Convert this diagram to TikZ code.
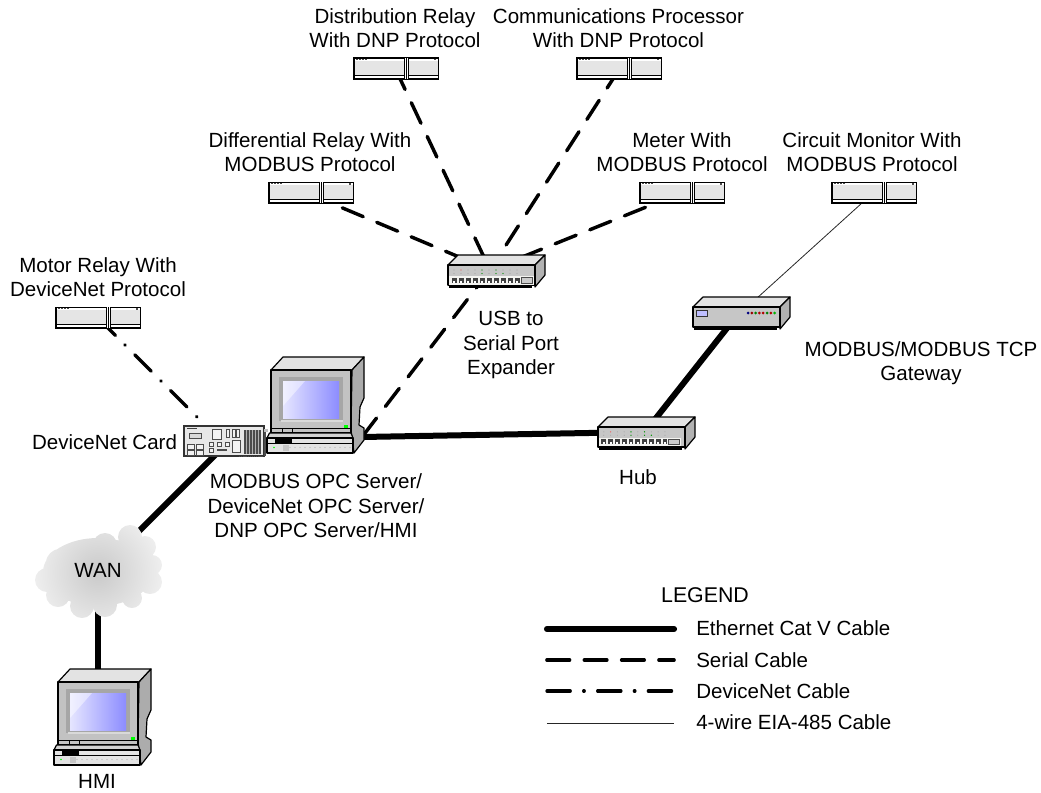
\documentclass[tikz,border=0pt]{standalone}
\usepackage{fontspec}
\setmainfont{Liberation Sans}
\begin{document}
\begin{tikzpicture}[x=0.75pt,y=-0.75pt,
  lbl/.style={font=\fontsize{15.4pt}{18.3pt}\selectfont,align=center,inner sep=0pt,text=black},
  anchorbox/.style={inner sep=0pt,minimum width=1pt,minimum height=1pt},
  eth/.style={line width=4.5pt,black},
  serial/.style={line width=2.6pt,black,line cap=round,dash pattern=on 17pt off 11pt},
  devnet/.style={line width=2.4pt,black,line cap=round,dash pattern=on 17.5pt off 10pt on 0.5pt off 10pt},
  rs/.style={line width=0.6pt,black!85},
  ol/.style={draw=black,line width=0.9pt,line join=round},
  relay/.pic={
    \fill[black] (0,-0.5) rectangle (86,22);
    \fill[gray!20] (1.5,1) rectangle (51,17);
    \fill[gray!20] (56,1) rectangle (84.5,17);
    \fill[white] (51.5,0) rectangle (52.8,21);
    \fill[white] (54,0) rectangle (55.2,21);
    \fill[white] (1.5,0.8) rectangle (51,2.8);
    \fill[white] (56,0.8) rectangle (84.5,2.8);
    \foreach \x in {3,6,9,12} \fill[black!70] (\x,1.2) rectangle ++(2,1.2);
    \fill[black!70] (81,1) rectangle (83,2.5);
    \fill[white] (1.5,18.2) rectangle (51,20.4);
    \fill[white] (56,18.2) rectangle (84.5,20.4);
  },
  boxbody/.pic={
    \path[ol,fill=gray!22] (0,0) -- (10,-10) -- (97,-10) -- (87,0) -- cycle;
    \path[ol,fill=gray!60] (87,0) -- (97,-10) -- (97,10) -- (87,22) -- cycle;
    \path[ol,fill=gray!45] (0,0) rectangle (87,20);
    \fill[black] (1,20) rectangle (84,22.5);
  },
  hubface/.pic={
    \pic {boxbody};
    \fill[yellow!12!gray!12] (1,11) rectangle (86,19.5);
    \foreach \i in {0,...,9} {
      \fill[black!75] (3.5+7*\i,12.5) rectangle ++(5,5);
      \fill[white] (5+7*\i,15.5) rectangle ++(2,2);
      \fill[gray!70] (6+7*\i,5) circle (0.6);
      \fill[gray!70] (6+7*\i,8.5) circle (0.6);
    }
    \fill[red!60] (13,5) circle (0.7);
    \fill[green!60!black] (34,5) circle (0.7);
    \fill[green!60!black] (34,8.5) circle (0.7);
    \fill[green!60!black] (48,5) circle (0.7);
    \fill[green!60!black] (55,8.5) circle (0.7);
    \fill[green!60!black] (48,8.5) circle (0.7);
    \path[draw=black!70,fill=gray!40,line width=0.5pt] (73,12.5) rectangle (84,18);
  },
  pcunit/.pic={
    \path[ol,fill=gray!22] (0,0) -- (12,-13) -- (93,-13) -- (81,0) -- cycle;
    \path[ol,fill=gray!65] (81,0) -- (93,-13) -- (93,28) -- (89,37) -- (88,55) -- (93,58) -- (93,70) -- (83,83) -- (80,60) -- cycle;
    \path[ol,fill=gray!48] (0,0) rectangle (80,63);
    \fill[gray!70] (8,7) rectangle (72,51);
    \fill[gray!30] (10,50) rectangle (72,51.5);
    \shade[left color=blue!10,right color=blue!45!white] (12,11) rectangle (68,48);
    \fill[white,opacity=0.45] (12,11) -- (34,11) -- (12,36) -- cycle;
    \fill[green] (73,55) rectangle (76.5,57.5);
    \draw[black,line width=0.7pt] (0,58) -- (80,58);
    \draw[black,line width=0.7pt] (11,58) -- (11,63) (21,58) -- (21,63);
    \path[ol,fill=gray!35] (-1.5,63) -- (80,63) -- (82,68) -- (-4,68) -- cycle;
    \path[ol,fill=gray!22] (-4,68) rectangle (82,83);
    \fill[black] (4,69) rectangle (21,72.5);
    \draw[black,line width=0.5pt] (-4,73) -- (82,73);
    \fill[green] (3,77.5) circle (0.9);
    \foreach \i in {0,...,12} \fill[gray!60] (19+5*\i,77.5) circle (0.7);
    \fill[gray!45] (12,75) rectangle (18,81);
  },
  dncard/.pic={
    \path[draw=black!80,line width=0.9pt,fill=gray!18] (0,0) rectangle (80,30);
    \fill[black!75] (3,1.5) rectangle (13,3);
    \path[draw=black!70,line width=0.7pt,fill=gray!30] (5,7) rectangle (17,12);
    \path[draw=black!70,line width=0.7pt,fill=gray!10] (28,3) rectangle (37,13);
    \foreach \x in {42,48,52} \path[draw=black!70,line width=0.7pt,fill=gray!10] (\x,3) rectangle ++(3,8);
    \foreach \x/\y in {3/18,3/24,12/18,12/24} \path[draw=black!70,line width=0.7pt,fill=gray!10] (\x,\y) rectangle ++(7,5);
    \foreach \x/\y in {25/16,33/16,41/16,25/22} \path[draw=black!70,line width=0.7pt,fill=gray!10] (\x,\y) rectangle ++(4,4);
    \fill[black!70] (33,23) rectangle (43,24.5);
    \path[draw=black!70,line width=0.7pt,fill=gray!10] (48,14) rectangle (56,26);
    \fill[black!70] (60,4) rectangle (77,28);
    \foreach \x in {62.5,65.5,68.5,71.5,74.5} \draw[gray!60,line width=0.4pt] (\x,4) -- (\x,28);
    \draw[black!70,line width=1.2pt,dash pattern=on 1pt off 0.6pt] (55,30.5) -- (79,30.5);
    \fill[gray!50] (80,3) rectangle (84,6);
    \fill[black!70] (80,6) rectangle (82,30);
  }
]
\useasboundingbox (0,0) rectangle (1041,792);

% anchor nodes for the connectors
\node[anchorbox] (distrelay) at (395,68) {};
\node[anchorbox] (commproc) at (620,68) {};
\node[anchorbox] (diffrelay) at (307,193) {};
\node[anchorbox] (meter) at (681,193) {};
\node[anchorbox] (circmon) at (873,193) {};
\node[anchorbox] (motor) at (98,318) {};
\node[anchorbox] (usbhub) at (490,270) {};
\node[anchorbox] (hubtwo) at (645,432) {};
\node[anchorbox] (gateway) at (735,318) {};
\node[anchorbox] (pcport) at (362,437) {};
\node[anchorbox] (cardnode) at (225,445) {};
\node[anchorbox] (wan) at (98,572) {};
\node[anchorbox] (hmipc) at (98,700) {};
\node[anchorbox] (legA) at (546,629) {};
\node[anchorbox] (legB) at (675,629) {};
\node[anchorbox] (legC) at (546,660) {};
\node[anchorbox] (legD) at (675,660) {};
\node[anchorbox] (legE) at (546,691) {};
\node[anchorbox] (legF) at (675,691) {};
\node[anchorbox] (legG) at (546,723) {};
\node[anchorbox] (legH) at (675,723) {};

% connectors
\draw[serial] (distrelay) -- (usbhub);
\draw[serial] (commproc) -- (usbhub);
\draw[serial] (diffrelay) -- (usbhub);
\draw[serial] (meter) -- (usbhub);
\draw[serial] (pcport) -- (usbhub);
\draw[eth] (pcport) -- (hubtwo);
\draw[eth] (hubtwo) -- (gateway);
\draw[rs] (circmon) -- (gateway);
\draw[devnet] (motor) -- (cardnode);
\draw[eth] (cardnode) -- (wan);
\draw[eth] (wan) -- (hmipc);

% relays
\foreach \x/\y in {353/58,576/58,268/182,639/182,831/182,55/307} \pic at (\x,\y) {relay};

% hubs and gateway
\pic at (448,265) {hubface};
\pic at (598,427) [scale=0.97] {hubface};
\pic at (693,307) {boxbody};
\path[draw=black!80,line width=0.6pt,fill=blue!25] (696,310) rectangle (707,316);
\foreach \i/\c in {0/blue!50!black,1/red!60!black,2/green!50!black,3/red!70!black,4/red!70!black,5/green!50!black,6/red!70!black,7/green!70!black}
  \fill[\c] (748+3.8*\i,313) circle (1.5);

% computers
\pic at (271,370) {pcunit};
\pic at (58,682) {pcunit};
\pic at (184,426) {dncard};

% cloud
\begin{scope}
  \clip (130,537) circle (12) (105,545) circle (12) (83,553) circle (12) (60,563) circle (14)
        (47,580) circle (12) (58,595) circle (12) (82,606) circle (12) (105,605) circle (12)
        (132,598) circle (10) (150,582) circle (12) (152,565) circle (10) (145,547) circle (11)
        (98,572) ellipse (55 and 34);
  \shade[inner color=gray!42,outer color=gray!8] (98,572) circle (75);
\end{scope}
\node[lbl] (wantxt) at (98,570) {WAN};

% labels
\node[lbl] at (395,28) {Distribution Relay\\With DNP Protocol};
\node[lbl] at (618.5,28) {Communications Processor\\With DNP Protocol};
\node[lbl] at (310,152) {Differential Relay With\\MODBUS Protocol};
\node[lbl] at (682,152) {Meter With\\MODBUS Protocol};
\node[lbl] at (872,152) {Circuit Monitor With\\MODBUS Protocol};
\node[lbl] at (98,277) {Motor Relay With\\DeviceNet Protocol};
\node[lbl] at (511,345) {USB to\\Serial Port\\Expander};
\node[lbl] at (921,363) {MODBUS/MODBUS TCP\\Gateway};
\node[lbl] at (638,477) {Hub};
\node[lbl] at (104.5,442) {DeviceNet Card};
\node[lbl] at (316,506) {MODBUS OPC Server/\\DeviceNet OPC Server/\\DNP OPC Server/HMI};
\node[lbl] at (97,781) {HMI};

% legend
\node[lbl,font=\fontsize{16pt}{19pt}\selectfont] at (705,595) {LEGEND};
\draw[eth,line cap=round] (legA) -- (legB);
\draw[serial] (legC) -- (legD);
\draw[devnet] (legE) -- (legF);
\draw[rs] (legG) -- (legH);
\node[lbl,anchor=west] at (696,628) {Ethernet Cat V Cable};
\node[lbl,anchor=west] at (696,660) {Serial Cable};
\node[lbl,anchor=west] at (696,691) {DeviceNet Cable};
\node[lbl,anchor=west] at (696,722) {4-wire EIA-485 Cable};
\end{tikzpicture}
\end{document}
